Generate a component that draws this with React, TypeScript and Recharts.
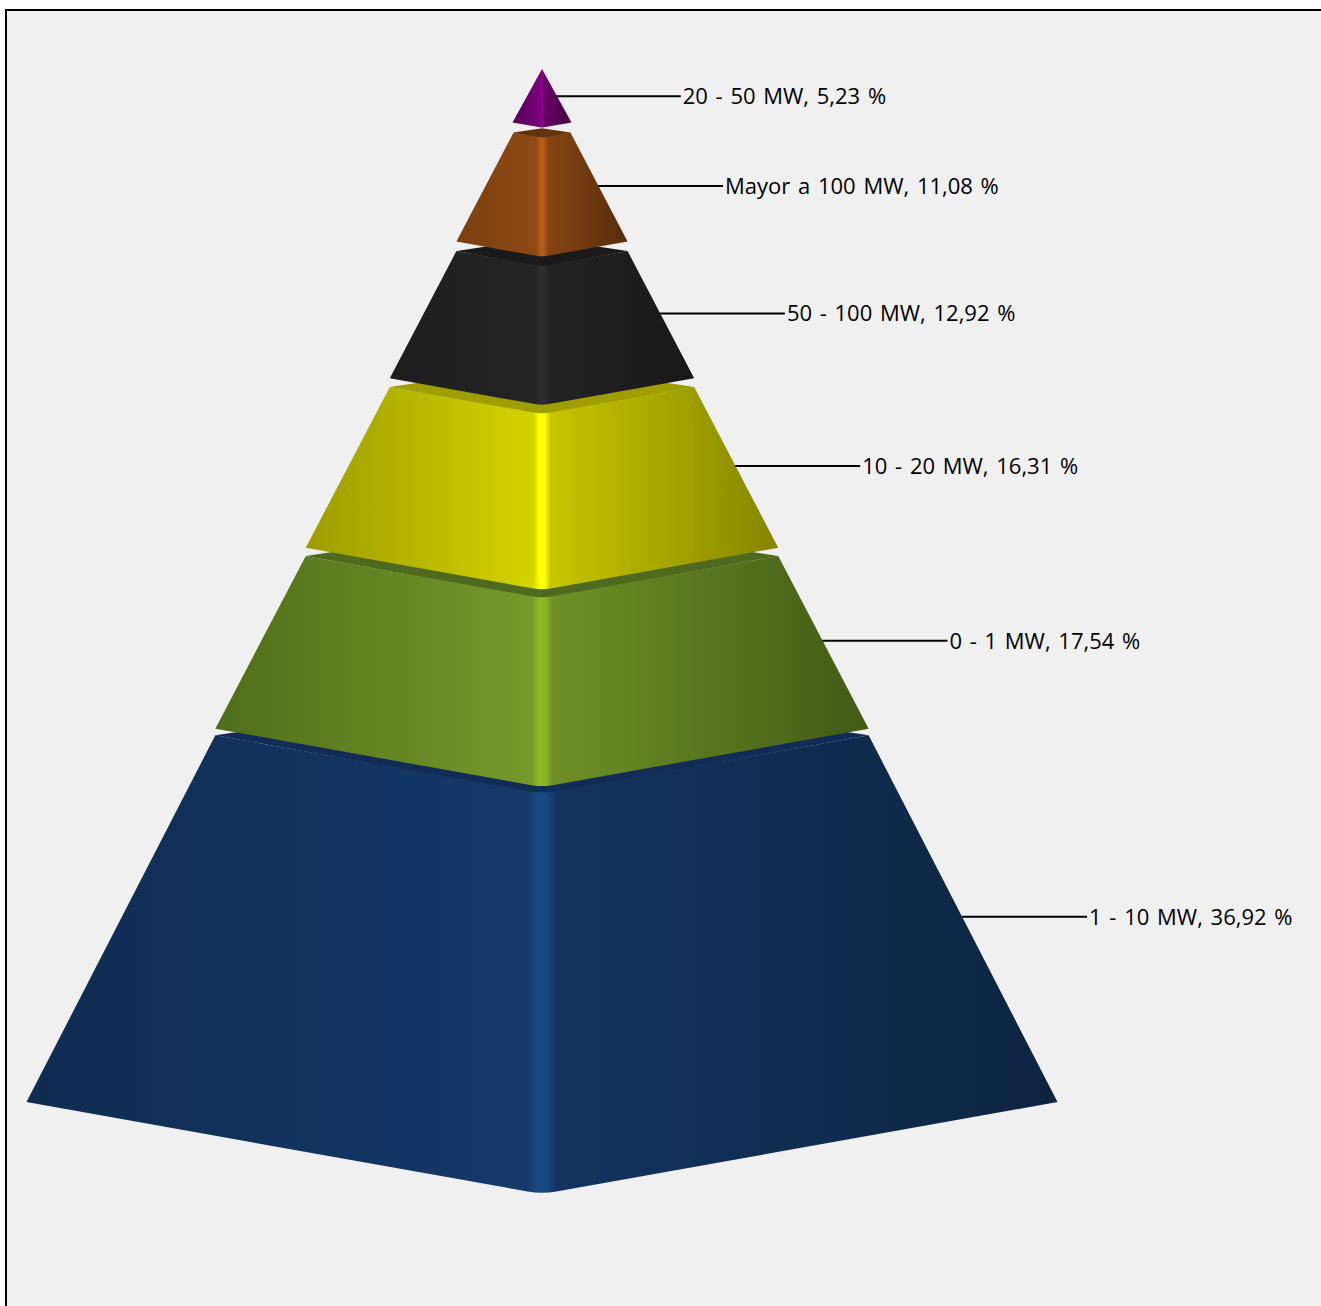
import React from "react";
import { BarChart, Bar, XAxis, YAxis } from "recharts";

const layerNames = ["1 - 10 MW", "0 - 1 MW", "10 - 20 MW", "50 - 100 MW", "Mayor a 100 MW", "20 - 50 MW"];
const layerShares = [36.92, 17.54, 16.31, 12.92, 11.08, 5.23];
const edgeLeftColors = ["#0f2b50", "#4f6e1a", "#9c9c00", "#1d1d1d", "#7a3f12", "#560056"];
const innerColors = ["#15396a", "#76992a", "#d4d400", "#252525", "#8f4a15", "#7a007a"];
const centerColors = ["#1a4a85", "#8ab827", "#ffff00", "#2d2d2d", "#b55c18", "#8c008c"];
const innerRightColors = ["#13345f", "#6f9026", "#c6c600", "#232323", "#874513", "#6a006a"];
const edgeRightColors = ["#0d2440", "#425a15", "#858500", "#181818", "#572d0b", "#3e003e"];
const topFaceColors = ["#122c57", "#4f6a1f", "#9e9e00", "#1a1a1a", "#5f340f", "#560056"];
const layerLift = [0, 3, 8, 14, 21, 29];

const WIDTH = 1321;
const HEIGHT = 1306;
const PLOT_TOP = 99;
const HALF_BASE = 515.5;
const FRONT_DROP = 0.1786;
const BACK_RISE = 0.15;
const EDGE_PAD = 1.5;
const LEADER = 125;

const row: Record<string, string | number> = { name: "Potencia" };
layerNames.forEach((n, i) => {
  row[n] = layerShares[i];
});
const chartData = [row];

function makeLayer(i: number) {
  return function Layer(props: any) {
    const { x, y, width, height } = props;
    const cx = x + width / 2;
    const total = HEIGHT - 204 - PLOT_TOP;
    const lift = layerLift[i];
    const isApex = i === layerNames.length - 1;
    const hwTop = isApex ? 0 : (HALF_BASE * (y - PLOT_TOP)) / total + EDGE_PAD;
    const hwBot = (HALF_BASE * (y + height - PLOT_TOP)) / total + (isApex ? EDGE_PAD + 1 : i > 0 ? EDGE_PAD : 0);
    const yCorner = y - lift;
    const yT = isApex ? yCorner - 1 : yCorner + 2 + 0.005 * hwTop;
    const yB = y + height - lift;
    const band = isApex ? 2 : 4 + 0.02 * hwBot;
    const vEdge = (yc: number, hw: number) => {
      const drop = FRONT_DROP * hw;
      const r = Math.min(band, hw * 0.6);
      const ys = hw > 0 ? yc + drop * (1 - r / hw) : yc;
      return { ys, r, tip: yc + drop };
    };
    const t = vEdge(yT, hwTop);
    const b = vEdge(yB, hwBot);
    const id = `layer-grad-${i}`;
    const pct = (px: number) => `${((px / (2 * hwBot)) * 100).toFixed(3)}%`;
    const front =
      `M${cx - hwTop},${yT} ` +
      (hwTop > 0 ? `L${cx - t.r},${t.ys} Q${cx},${t.tip} ${cx + t.r},${t.ys} ` : "") +
      `L${cx + hwTop},${yT} L${cx + hwBot},${yB} L${cx + b.r},${b.ys} Q${cx},${b.tip} ${cx - b.r},${b.ys} L${cx - hwBot},${yB} Z`;
    const topFace =
      `M${cx - hwTop},${yT} L${cx},${yT - BACK_RISE * hwTop} L${cx + hwTop},${yT} ` +
      `L${cx + t.r},${t.ys + 1} Q${cx},${t.tip + 1} ${cx - t.r},${t.ys + 1} Z`;
    const yMid = (yCorner + yB) / 2;
    const hwMid = (hwTop + hwBot) / 2;
    const x0 = cx + hwMid - 1;
    return (
      <g>
        <defs>
          <linearGradient id={id} gradientUnits="userSpaceOnUse" x1={cx - hwBot} x2={cx + hwBot} y1={0} y2={0}>
            <stop offset="0%" stopColor={edgeLeftColors[i]} />
            <stop offset={pct(hwBot - band)} stopColor={innerColors[i]} />
            <stop offset={pct(hwBot - band * 0.3)} stopColor={centerColors[i]} />
            <stop offset={pct(hwBot + band * 0.3)} stopColor={centerColors[i]} />
            <stop offset={pct(hwBot + band)} stopColor={innerRightColors[i]} />
            <stop offset="100%" stopColor={edgeRightColors[i]} />
          </linearGradient>
        </defs>
        {hwTop > 0 && <path d={topFace} fill={topFaceColors[i]} />}
        <path d={front} fill={`url(#${id})`} />
        <line x1={x0} x2={x0 + LEADER} y1={yMid} y2={yMid} stroke="#000" strokeWidth={2} />
        <text
          x={x0 + LEADER + 2}
          y={yMid + 8}
          fontFamily="'Open Sans', sans-serif"
          fontSize={22}
          wordSpacing={2}
          fill="#000"
        >
          {`${layerNames[i]}, ${layerShares[i].toFixed(2).replace(".", ",")} %`}
        </text>
      </g>
    );
  };
}

export default function App() {
  return (
    <div style={{ position: "fixed", left: 0, top: 0, width: WIDTH, height: HEIGHT, overflow: "hidden", background: "#fff" }}>
      <div
        style={{
          position: "absolute",
          left: 5,
          top: 9,
          width: WIDTH + 20,
          height: HEIGHT + 20,
          boxSizing: "border-box",
          border: "2px solid #000",
          background: "#f0f0f0",
        }}
      />
      <div style={{ position: "absolute", left: 0, top: 0 }}>
        <BarChart
          width={WIDTH}
          height={HEIGHT}
          data={chartData}
          margin={{ top: PLOT_TOP, bottom: 204, left: 0, right: 237 }}
          barCategoryGap={0}
        >
          <XAxis dataKey="name" hide />
          <YAxis hide type="number" domain={[0, 100]} />
          {layerNames.map((n, i) => (
            <Bar key={n} dataKey={n} stackId="p" isAnimationActive={false} shape={makeLayer(i)} />
          ))}
        </BarChart>
      </div>
    </div>
  );
}
